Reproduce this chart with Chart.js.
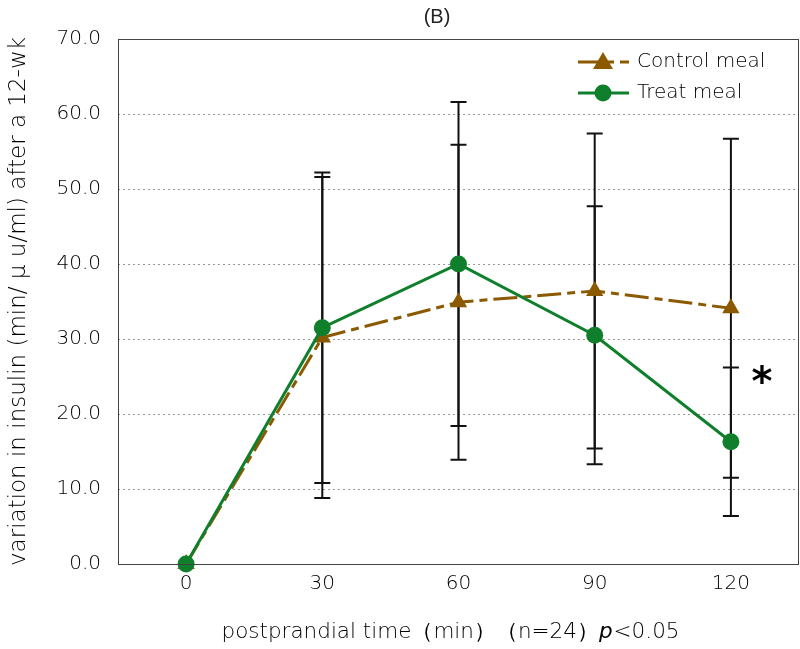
<!DOCTYPE html>
<html>
<head>
<meta charset="utf-8">
<script src="https://cdn.jsdelivr.net/npm/chart.js@4.4.1/dist/chart.umd.min.js"></script>
<style>
  body { margin: 0; background: #fff; }
  #grafico { display: block; }
</style>
</head>
<body>
<canvas id="grafico" width="800" height="649"></canvas>
<script>
// datos
const tiempos = ['0', '30', '60', '90', '120'];
const controlMedia = [0, 30.2, 34.9, 36.4, 34.1];
const controlDE = [0, 21.4, 21.0, 21.0, 22.6];
const tratMedia = [0, 31.5, 40.0, 30.5, 16.3];
const tratDE = [0, 20.7, 21.6, 17.2, 9.9];
const yTicks = [0, 10, 20, 30, 40, 50, 60, 70];

const fuente = "'DejaVu Sans', sans-serif";
const colorControl = '#8B5A00';
const colorTrat = '#0F7F2C';

// barras de error, leyenda, marco y textos extra
const extras = {
    id: 'extras',
    beforeDatasetsDraw(chart) {
        const { ctx, scales: { x, y } } = chart;
        const series = [[controlMedia, controlDE], [tratMedia, tratDE]];
        ctx.save();
        ctx.strokeStyle = '#111';
        ctx.lineWidth = 2;
        series.forEach(([media, de]) => {
            media.forEach((m, i) => {
                if (!de[i]) return;
                const px = x.getPixelForValue(i);
                const top = y.getPixelForValue(m + de[i]);
                const bot = y.getPixelForValue(m - de[i]);
                ctx.beginPath();
                ctx.moveTo(px, top); ctx.lineTo(px, bot);
                ctx.moveTo(px - 8, top); ctx.lineTo(px + 8, top);
                ctx.moveTo(px - 8, bot); ctx.lineTo(px + 8, bot);
                ctx.stroke();
            });
        });
        ctx.restore();
    },
    afterDraw(chart) {
        const { ctx, chartArea: a, scales: { x, y } } = chart;
        ctx.save();
        // marco
        ctx.strokeStyle = '#444';
        ctx.lineWidth = 1;
        ctx.strokeRect(a.left + 0.5, a.top + 0.5, a.right - a.left - 1, a.bottom - a.top);

        // título
        ctx.fillStyle = '#222';
        ctx.font = "20px 'Liberation Sans', Arial, sans-serif";
        ctx.textAlign = 'center';
        ctx.textBaseline = 'middle';
        ctx.fillText('(B)', 437, 17);

        // asterisco
        ctx.fillStyle = '#000';
        ctx.font = "bold 40px 'DejaVu Sans', sans-serif";
        ctx.fillText('*', x.getPixelForValue(4) + 31, y.getPixelForValue(25) + 8);

        // leyenda
        const items = [
            { text: 'Control meal', color: colorControl, dash: [22, 6, 8, 6], forma: 'tri', yy: 62 },
            { text: 'Treat meal', color: colorTrat, dash: [], forma: 'circ', yy: 93 }
        ];
        items.forEach(it => {
            ctx.strokeStyle = it.color;
            ctx.fillStyle = it.color;
            ctx.lineWidth = 3;
            ctx.setLineDash(it.dash);
            ctx.beginPath();
            ctx.moveTo(578, it.yy); ctx.lineTo(629, it.yy);
            ctx.stroke();
            ctx.setLineDash([]);
            ctx.beginPath();
            if (it.forma === 'tri') {
                ctx.moveTo(603, it.yy - 10);
                ctx.lineTo(613, it.yy + 7);
                ctx.lineTo(593, it.yy + 7);
                ctx.closePath();
            } else {
                ctx.arc(603, it.yy, 8.5, 0, Math.PI * 2);
            }
            ctx.fill();
            ctx.fillStyle = '#000';
            ctx.font = '200 20px ' + fuente;
            ctx.textAlign = 'left';
            ctx.fillText(it.text, 637, it.yy);
        });

        // título del eje x con p en cursiva
        ctx.fillStyle = '#000';
        ctx.textBaseline = 'middle';
        const f = '200 21.5px ' + fuente;
        const fi = 'italic 200 21.5px ' + fuente;
        const parte1 = 'postprandial time（min）（n=24）';
        ctx.font = f;
        let w1 = ctx.measureText(parte1).width;
        ctx.font = fi;
        let w2 = ctx.measureText('p').width;
        ctx.font = f;
        let w3 = ctx.measureText('<0.05').width;
        let sx = 450 - (w1 + w2 + w3) / 2;
        ctx.textAlign = 'left';
        ctx.fillText(parte1, sx, 632);
        ctx.font = fi;
        ctx.fillText('p', sx + w1, 632);
        ctx.font = f;
        ctx.fillText('<0.05', sx + w1 + w2 + 1, 632);
        ctx.restore();
    }
};

const ctxGrafico = document.getElementById('grafico').getContext('2d');
new Chart(ctxGrafico, {
    type: 'line',
    data: {
        labels: tiempos,
        datasets: [
            {
                label: 'Control meal',
                data: controlMedia,
                borderColor: colorControl,
                backgroundColor: colorControl,
                borderWidth: 3,
                borderDash: [24, 6, 8, 6],
                pointStyle: 'triangle',
                pointRadius: 10,
                pointBorderWidth: 0,
                tension: 0,
                clip: false,
                order: 2
            },
            {
                label: 'Treat meal',
                data: tratMedia,
                borderColor: colorTrat,
                backgroundColor: colorTrat,
                borderWidth: 3,
                pointStyle: 'circle',
                pointRadius: 8.5,
                pointBorderWidth: 0,
                tension: 0,
                clip: false,
                order: 1
            }
        ]
    },
    options: {
        responsive: false,
        animation: false,
        layout: { autoPadding: false, padding: { top: 39, right: 1, left: 0, bottom: 0 } },
        plugins: {
            legend: { display: false },
            tooltip: { enabled: false }
        },
        scales: {
            x: {
                offset: true,
                grid: { display: false, drawTicks: false },
                border: { display: false },
                ticks: { color: '#000', padding: 8, font: { size: 20, family: fuente, weight: 200 } },
                afterFit: s => { s.height = 85; s.paddingLeft = 0; s.paddingRight = 0; }
            },
            y: {
                min: 0,
                max: 70,
                afterBuildTicks: s => { s.ticks = yTicks.map(v => ({ value: v })); },
                grid: {
                    drawTicks: false,
                    color: c => (c.tick.value === 0 || c.tick.value === 70) ? 'rgba(0,0,0,0)' : '#999'
                },
                border: { display: false, dash: [2, 3] },
                ticks: {
                    color: '#000',
                    padding: 17,
                    font: { size: 20, family: fuente, weight: 200 },
                    callback: v => v.toFixed(1)
                },
                title: {
                    display: true,
                    text: 'variation in insulin (min/ μ u/ml) after a 12-wk',
                    color: '#000',
                    font: { size: 23, family: fuente, weight: 200 },
                    padding: { top: 5, bottom: 0 }
                },
                afterFit: s => { s.width = 118; s.paddingTop = 0; s.paddingBottom = 0; }
            }
        }
    },
    plugins: [extras]
});
</script>
</body>
</html>
